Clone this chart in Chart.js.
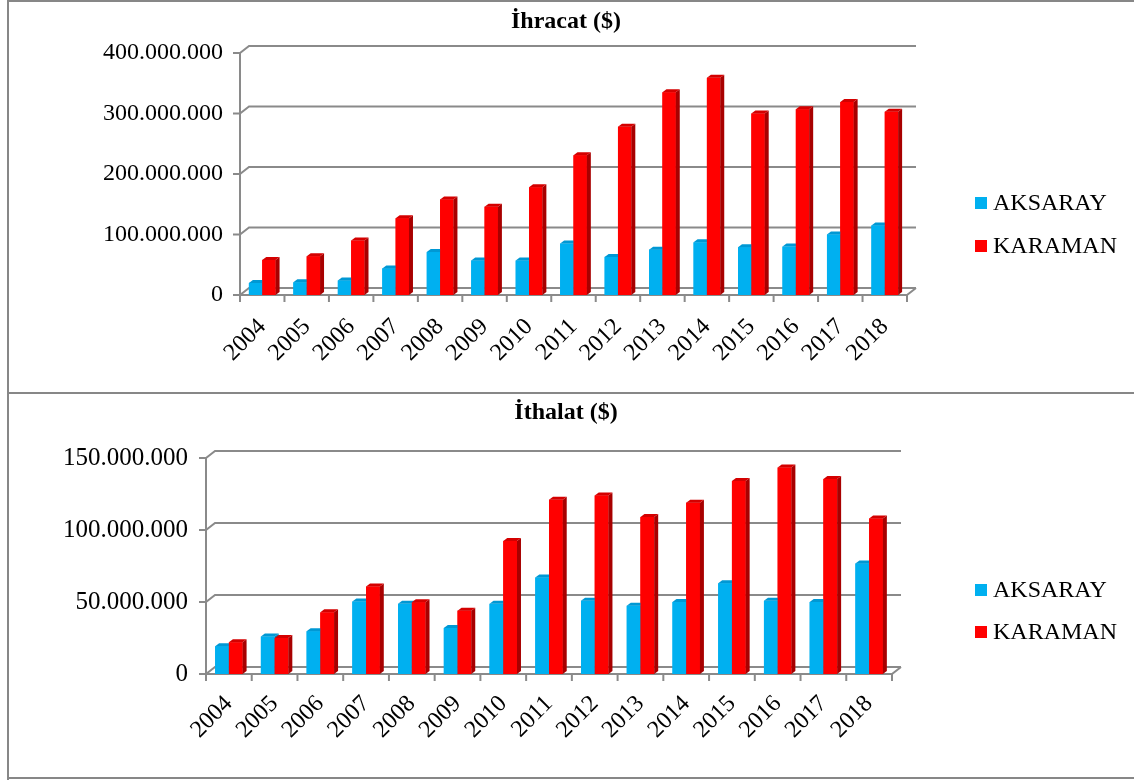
<!DOCTYPE html>
<html lang="tr">
<head>
<meta charset="utf-8">
<title>İhracat / İthalat</title>
<script src="https://cdn.jsdelivr.net/npm/chart.js@4.4.1/dist/chart.umd.min.js"></script>
<style>
  html, body { margin: 0; padding: 0; background: #fff; }
  .page { position: relative; width: 1134px; height: 780px; overflow: hidden; }
  .panel { position: absolute; left: 0; width: 1134px; }
  .panel canvas { display: block; }
  .rule { position: absolute; background: #878787; }
</style>
</head>
<body>
<div class="page">
  <div class="panel" style="top:0;height:392px"><canvas id="exportChart" width="1134" height="392"></canvas></div>
  <div class="panel" style="top:393px;height:386px"><canvas id="importChart" width="1134" height="386"></canvas></div>
  <div class="rule" style="left:7px;top:0;width:1127px;height:2px"></div>
  <div class="rule" style="left:7px;top:0;width:2px;height:780px"></div>
  <div class="rule" style="left:7px;top:392px;width:1127px;height:2px"></div>
  <div class="rule" style="left:7px;top:777px;width:1127px;height:2px"></div>
</div>
<script>
const YEARS = ["2004", "2005", "2006", "2007", "2008", "2009", "2010", "2011", "2012", "2013", "2014", "2015", "2016", "2017", "2018"];
const SERIES_NAMES = ["AKSARAY", "KARAMAN"];

// İhracat ($)
const EXPORT_AKSARAY = [20000000, 21000000, 24000000, 44000000, 71000000, 57000000, 57000000, 85000000, 63000000, 75000000, 87000000, 79000000, 80000000, 100000000, 115000000];
const EXPORT_KARAMAN = [58000000, 64000000, 90000000, 127000000, 158000000, 146000000, 178000000, 231000000, 278000000, 335000000, 359000000, 300000000, 307000000, 319000000, 303000000];
const EXPORT_TICKS = [0, 100000000, 200000000, 300000000, 400000000];

// İthalat ($)
const IMPORT_AKSARAY = [19300000, 26000000, 29700000, 50300000, 48700000, 32000000, 48700000, 67000000, 50800000, 47400000, 50000000, 63000000, 50800000, 50000000, 76800000];
const IMPORT_KARAMAN = [22000000, 25000000, 42800000, 60700000, 49900000, 44000000, 92400000, 121000000, 124000000, 109000000, 119000000, 134000000, 143400000, 135400000, 108000000];
const IMPORT_TICKS = [0, 50000000, 100000000, 150000000];

const SERIF = '"Liberation Serif", "Times New Roman", serif';
const GRID = "#8a8a8a";
const FRONT = ["#00b0f0", "#ff0000"];
const SIDE = ["#0085b8", "#a80000"];
const TOP = ["#0098d4", "#d40000"];
const DX = 9, DY = 7;        // wall depth
const BDX = 4, BDY = 3;      // bar depth

const dotted = (v) => String(v).replace(/\B(?=(\d{3})+(?!\d))/g, ".");

function poly(ctx, pts) {
  ctx.beginPath();
  ctx.moveTo(pts[0][0], pts[0][1]);
  pts.slice(1).forEach((p) => ctx.lineTo(p[0], p[1]));
  ctx.closePath();
  ctx.fill();
}

const wallPlugin = {
  id: "wall3d",
  beforeDatasetsDraw(chart) {
    const { ctx, chartArea: a, scales: { y } } = chart;
    ctx.save();
    ctx.strokeStyle = GRID;
    ctx.lineWidth = 2;
    ctx.beginPath();
    y.ticks.forEach((t) => {
      const py = y.getPixelForValue(t.value);
      ctx.moveTo(a.left - 7, py);
      ctx.lineTo(a.left, py);
      ctx.lineTo(a.left + DX, py - DY);
      ctx.lineTo(a.right + DX, py - DY);
    });
    ctx.moveTo(a.left, a.top);
    ctx.lineTo(a.left, a.bottom);
    ctx.lineTo(a.right, a.bottom);
    ctx.lineTo(a.right + DX, a.bottom - DY);
    const n = YEARS.length;
    for (let i = 0; i <= n; i++) {
      const px = a.left + (i * (a.right - a.left)) / n;
      ctx.moveTo(px, a.bottom);
      ctx.lineTo(px, a.bottom + 7);
    }
    ctx.stroke();
    ctx.restore();
  },
  afterDatasetsDraw(chart) {
    const { ctx } = chart;
    const metas = [chart.getDatasetMeta(0), chart.getDatasetMeta(1)];
    ctx.save();
    for (let i = 0; i < YEARS.length; i++) {
      metas.forEach((meta, d) => {
        const { x, y, base, width } = meta.data[i].getProps(["x", "y", "base", "width"], true);
        const l = x - width / 2, r = x + width / 2;
        ctx.fillStyle = FRONT[d];
        ctx.fillRect(l, y, width, base - y);
        ctx.fillStyle = SIDE[d];
        poly(ctx, [[r, y], [r + BDX, y - BDY], [r + BDX, base - BDY], [r, base]]);
        ctx.fillStyle = TOP[d];
        poly(ctx, [[l, y], [l + BDX, y - BDY], [r + BDX, y - BDY], [r, y]]);
      });
    }
    ctx.restore();
  },
  afterDraw(chart, args, opts) {
    const { ctx } = chart;
    ctx.save();
    ctx.fillStyle = "#000";
    ctx.textBaseline = "middle";
    ctx.textAlign = "center";
    ctx.font = `bold 24px ${SERIF}`;
    ctx.fillText(opts.title, 566, opts.titleY);
    ctx.textAlign = "left";
    ctx.font = `24px ${SERIF}`;
    chart.data.datasets.forEach((ds, d) => {
      const ly = opts.legendY[d];
      ctx.fillStyle = FRONT[d];
      ctx.fillRect(975, ly - 6, 12, 12);
      ctx.fillStyle = "#000";
      ctx.fillText(ds.label, 993, ly + 1);
    });
    ctx.restore();
  },
};

function buildChart(id, cfg) {
  return new Chart(document.getElementById(id), {
    type: "bar",
    data: {
      labels: YEARS,
      datasets: [
        { label: SERIES_NAMES[0], data: cfg.aksaray, backgroundColor: FRONT[0] },
        { label: SERIES_NAMES[1], data: cfg.karaman, backgroundColor: FRONT[1] },
      ],
    },
    plugins: [wallPlugin],
    options: {
      responsive: false,
      animation: false,
      devicePixelRatio: 1,
      categoryPercentage: 0.6,
      barPercentage: 1.0,
      layout: { padding: cfg.padding },
      plugins: {
        legend: { display: false },
        title: { display: false },
        tooltip: { enabled: false },
        wall3d: { title: cfg.title, titleY: cfg.titleY, legendY: cfg.legendY },
      },
      scales: {
        x: {
          grid: { display: false },
          border: { display: false },
          afterFit: (scale) => { scale.height = cfg.xHeight; },
          ticks: {
            autoSkip: false,
            minRotation: 45,
            maxRotation: 45,
            padding: cfg.xPad,
            color: "#000",
            font: { family: SERIF, size: 24 },
          },
        },
        y: {
          min: 0,
          max: cfg.ticks[cfg.ticks.length - 1],
          grid: { display: false },
          border: { display: false },
          afterFit: (scale) => { scale.width = cfg.yWidth; },
          afterBuildTicks: (scale) => { scale.ticks = cfg.ticks.map((value) => ({ value })); },
          ticks: {
            padding: cfg.yPad,
            color: "#000",
            font: { family: SERIF, size: cfg.yFont },
            callback: (value) => dotted(value),
          },
        },
      },
    },
  });
}

buildChart("exportChart", {
  title: "İhracat ($)",
  titleY: 22,
  legendY: [203, 246],
  aksaray: EXPORT_AKSARAY,
  karaman: EXPORT_KARAMAN,
  ticks: EXPORT_TICKS,
  padding: { top: 53, right: 227, bottom: 7, left: 0 },
  yWidth: 240,
  yPad: 9,
  yFont: 24,
  xPad: 10,
  xHeight: 90,
});

buildChart("importChart", {
  title: "İthalat ($)",
  titleY: 20,
  legendY: [197, 239],
  aksaray: IMPORT_AKSARAY,
  karaman: IMPORT_KARAMAN,
  ticks: IMPORT_TICKS,
  padding: { top: 65, right: 242, bottom: 10, left: 0 },
  yWidth: 206,
  yPad: 10,
  yFont: 25,
  xPad: 8,
  xHeight: 95,
});
</script>
</body>
</html>
